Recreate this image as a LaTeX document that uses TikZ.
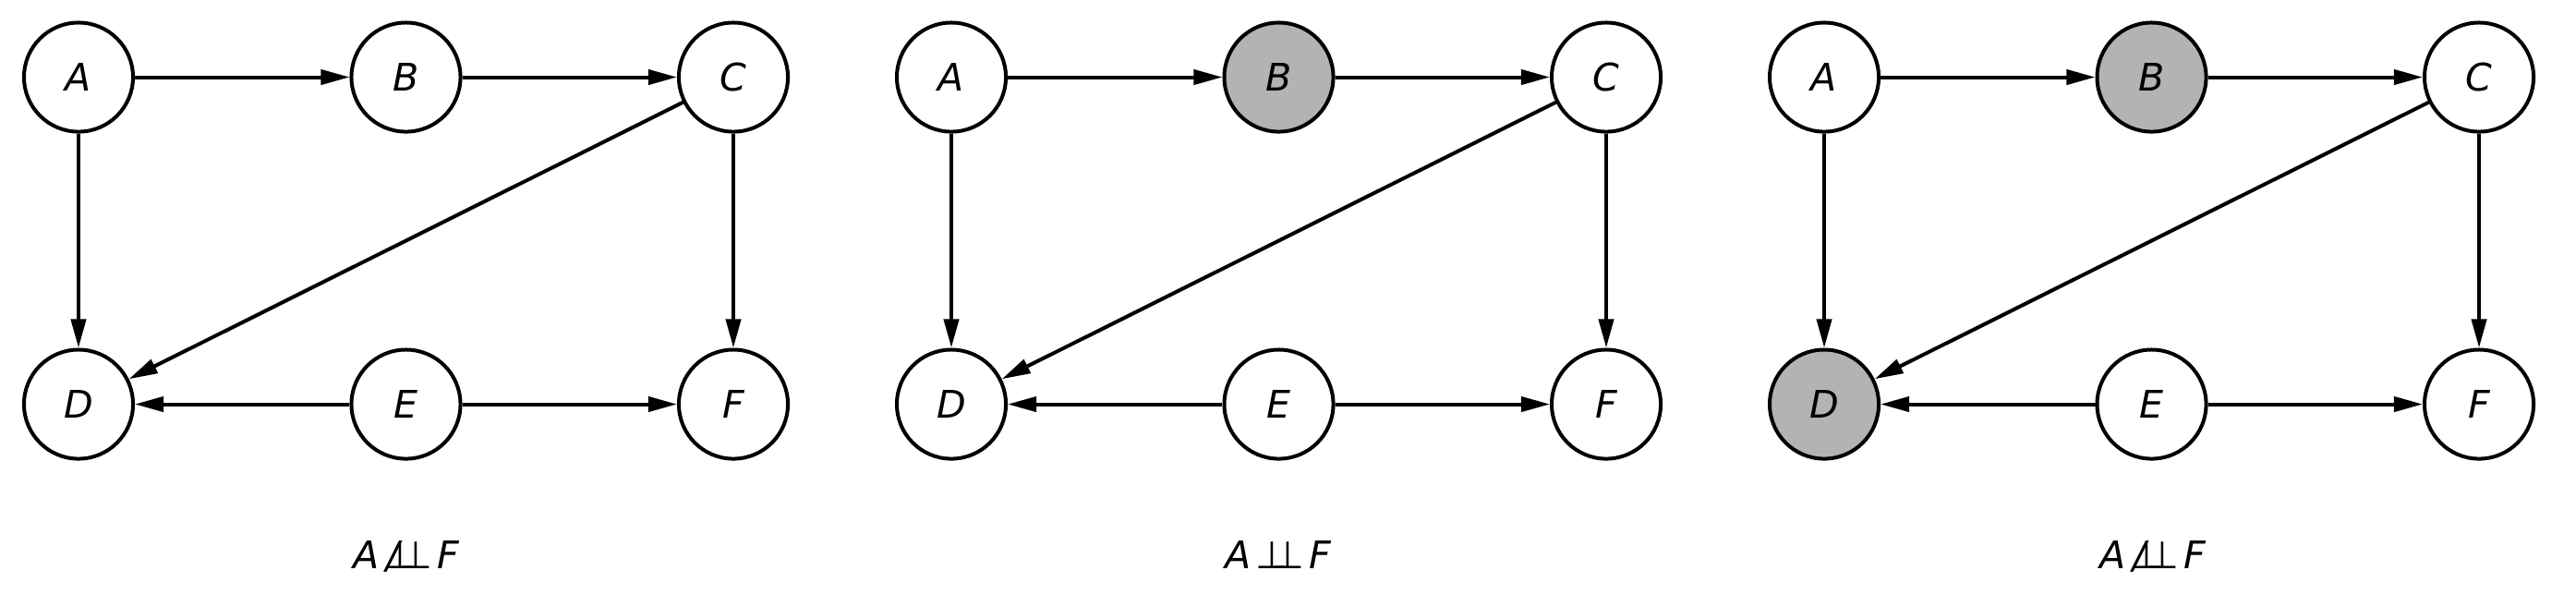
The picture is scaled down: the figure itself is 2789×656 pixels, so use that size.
\documentclass[tikz,border=0pt]{standalone}
\usepackage{fontspec}
\setmainfont{DejaVu Sans}
\usetikzlibrary{arrows.meta}
\definecolor{obs}{RGB}{179,179,179}
\newcommand{\myindep}{\mbox{⊥\kern-0.45em⊥}}
\newcommand{\mynindep}{\mbox{\rlap{\kern0.08em\itshape /}⊥\kern-0.45em⊥}}
\begin{document}
\begin{tikzpicture}[x=0.01cm,y=-0.01cm,
  var/.style={circle,draw,line width=0.04cm,minimum size=1.18cm,inner sep=0pt,
    font=\fontsize{11.7pt}{14pt}\selectfont\itshape},
  edge/.style={line width=0.04cm,-{Triangle[length=0.31cm,width=0.16cm]}},
  caption/.style={anchor=base,inner sep=0pt,font=\fontsize{11.7pt}{14pt}\selectfont}]
\useasboundingbox (0,0) rectangle (2789,656);
\foreach \p/\ox/\fb/\fd in {1/0/white/white,2/945/obs/white,3/1890/obs/obs}{
  \node[var] (A\p) at (85+\ox,83.5) {A};
  \node[var,fill=\fb] (B\p) at (439.5+\ox,83.5) {B};
  \node[var] (C\p) at (794+\ox,83.5) {C};
  \node[var,fill=\fd] (D\p) at (85+\ox,437.5) {D};
  \node[var] (E\p) at (439.5+\ox,437.5) {E};
  \node[var] (F\p) at (794+\ox,437.5) {F};
  \draw[edge] (A\p) -- (B\p);
  \draw[edge] (B\p) -- (C\p);
  \draw[edge] (A\p) -- (D\p);
  \draw[edge] (C\p) -- (D\p);
  \draw[edge] (C\p) -- (F\p);
  \draw[edge] (E\p) -- (D\p);
  \draw[edge] (E\p) -- (F\p);
}
\node[caption] (L1) at (440,615) {\textit{A}\hspace{0.12em}\mynindep\hspace{0.12em}\textit{F}};
\node[caption] (L2) at (1384,615) {\textit{A}\hspace{0.12em}\myindep\hspace{0.12em}\textit{F}};
\node[caption] (L3) at (2331,615) {\textit{A}\hspace{0.12em}\mynindep\hspace{0.12em}\textit{F}};
\end{tikzpicture}
\end{document}
